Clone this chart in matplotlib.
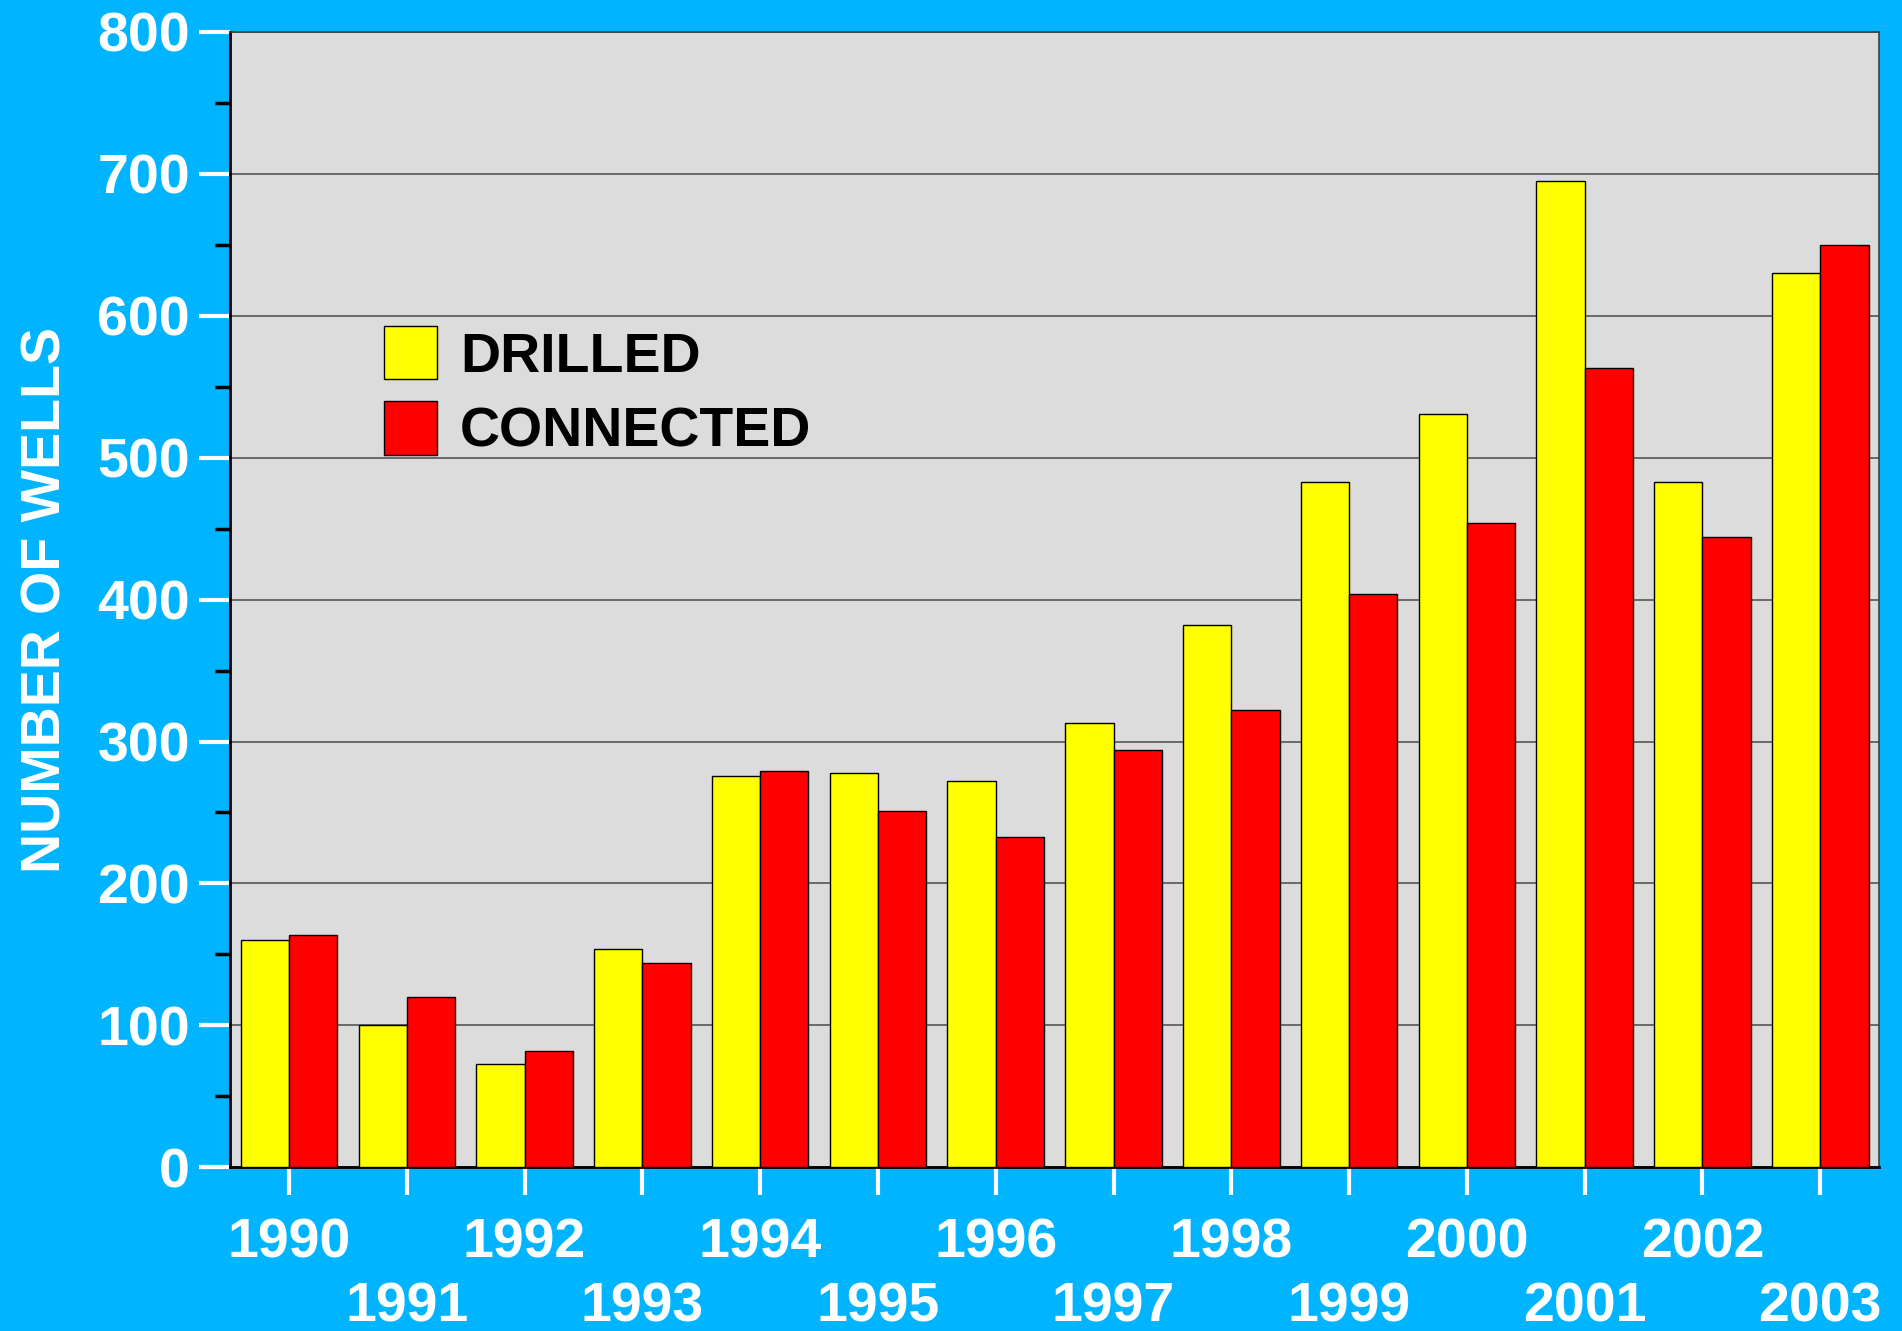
import numpy as np
import matplotlib.pyplot as plt

years = ['1990', '1991', '1992', '1993', '1994', '1995', '1996',
         '1997', '1998', '1999', '2000', '2001', '2002', '2003']
drilled = [160, 100, 73, 154, 276, 278, 272, 313, 382, 483, 531, 695, 483, 630]
connected = [164, 120, 82, 144, 279, 251, 233, 294, 322, 404, 454, 563, 444, 650]

plt.rcParams['font.family'] = ['Liberation Sans', 'DejaVu Sans']
plt.rcParams['font.weight'] = 'bold'

bg = '#00B4FF'
fig = plt.figure(figsize=(19.02, 13.31), dpi=100, facecolor=bg)
ax = fig.add_axes([0.121, 0.123, 0.867, 0.853])
ax.set_facecolor('#DCDCDC')

x = np.arange(len(years))
w = 0.41
ax.bar(x - w / 2, drilled, w, color='#FFFF00', edgecolor='black', linewidth=1, label='DRILLED', zorder=3)
ax.bar(x + w / 2, connected, w, color='#FF0000', edgecolor='black', linewidth=1, label='CONNECTED', zorder=3)

ax.set_xlim(-0.5, 13.5)
ax.set_ylim(0, 800)
ax.set_yticks(np.arange(0, 801, 100))
ax.set_yticks(np.arange(50, 800, 100), minor=True)
ax.yaxis.grid(True, color='#606060', linewidth=1.3, zorder=0)
ax.set_axisbelow(True)

# alternate the year labels on two rows
ax.set_xticks(x)
ax.set_xticklabels([y if i % 2 == 0 else '\n' + y for i, y in enumerate(years)])

ax.tick_params(axis='both', colors='white', labelsize=40, direction='out')
ax.tick_params(axis='y', which='major', length=22, width=3, pad=7)
ax.tick_params(axis='y', which='minor', length=11, width=2.5)
ax.tick_params(axis='x', which='major', length=20, width=3, pad=16)
for lab in ax.get_xticklabels():
    lab.set_linespacing(1.3)

for side in ['left', 'bottom']:
    ax.spines[side].set_color('black')
    ax.spines[side].set_linewidth(2)
for side in ['top', 'right']:
    ax.spines[side].set_color('#404040')
    ax.spines[side].set_linewidth(1.2)

ax.set_ylabel('NUMBER OF WELLS', color='white', fontsize=40, fontweight='bold', labelpad=18)

leg = ax.legend(loc='upper left', bbox_to_anchor=(0.063, 0.785), frameon=False, fontsize=40,
                handlelength=0.95, handleheight=1.1, handletextpad=0.42, labelspacing=0.32)

fig.savefig('out.png', facecolor=bg)
